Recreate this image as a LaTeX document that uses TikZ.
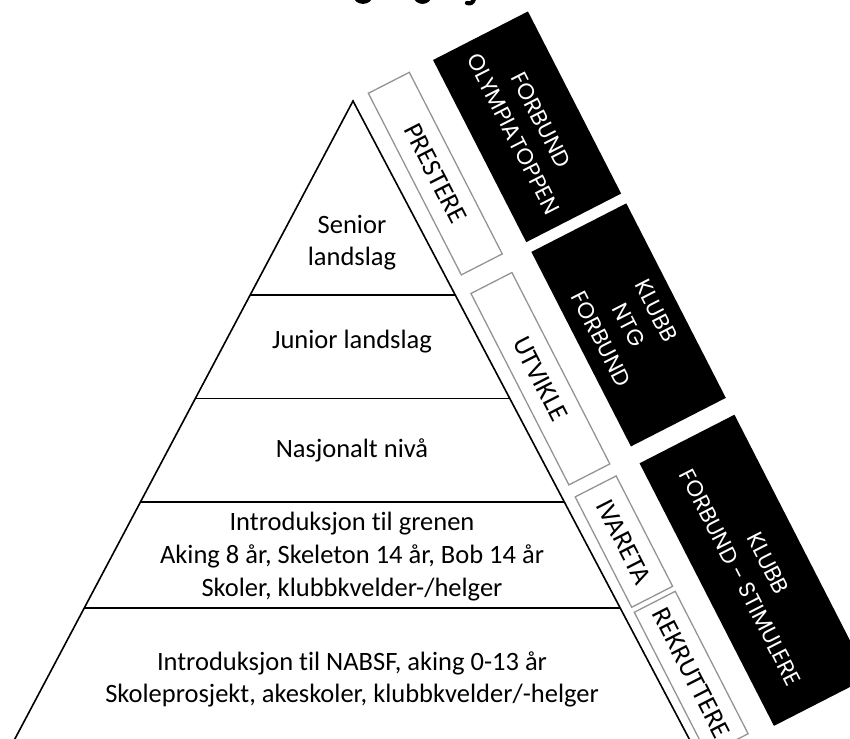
\documentclass[tikz,border=0pt]{standalone}
\usepackage{fontspec}
\setmainfont{Carlito}[Ligatures=CommonOff]
\newfontfamily\boxfont{Poppins}
\begin{document}
\begin{tikzpicture}[x=1pt,y=-1pt,
  lvl/.style={align=center,font=\fontsize{26.5}{32}\selectfont,inner sep=0pt},
  phase/.style={draw=black!42,line width=1.3pt,fill=white,rotate=-62.9,inner sep=0pt,
    minimum height=46pt,font=\fontsize{27}{32}\selectfont},
  actor/.style={fill=black,text=white,rotate=-62.9,inner sep=0pt,align=center,
    minimum height=106.6pt,font=\boxfont\fontsize{22.5}{31}\selectfont},
  edge/.style={line width=1.6pt,black},
  frag/.style={line width=4.2pt,black,line cap=round}]
\useasboundingbox (0,0) rectangle (850,738);
\clip (0,0) rectangle (850,738);

% fragments of the cut-off title
\draw[frag] (355,-5) .. controls (356,4) and (370,4) .. (371,-5);
\draw[frag] (415,-5) .. controls (416,4) and (429,4) .. (430,-5);
\draw[frag] (475,-6) -- (474,-1) .. controls (473,3) and (470,4) .. (467,3);

% pyramid
\coordinate (apex) at (353,101);
\coordinate (bl) at (3.7,760);
\coordinate (br) at (700.3,760);
\draw[edge] (bl) -- (apex) -- (br);
\coordinate (l1) at (250.2,295);   \coordinate (r1) at (455.2,295);
\coordinate (l2) at (195.3,398.5); \coordinate (r2) at (509.8,398.5);
\coordinate (l3) at (140.5,502);   \coordinate (r3) at (564.3,502);
\coordinate (l4) at (84.3,608);    \coordinate (r4) at (620.2,608);
\draw[edge] (l1) -- (r1);
\draw[edge] (l2) -- (r2);
\draw[edge] (l3) -- (r3);
\draw[edge] (l4) -- (r4);

% level texts
\node[lvl] (senior) at (352,243) {Senior\\landslag};
\node[lvl] (junior) at (352,342) {Junior landslag};
\node[lvl] (nasjonalt) at (352,450) {Nasjonalt nivå};
\node[lvl,font=\fontsize{26.5}{33}\selectfont] (intro) at (352,557) {Introduksjon til grenen\\Aking 8 år, Skeleton 14 år, Bob 14 år\\Skoler, klubbkvelder-/helger};
\node[lvl] (nabsf) at (352,679) {Introduksjon til NABSF, aking 0-13 år\\Skoleprosjekt, akeskoler, klubbkvelder/-helger};

% phase boxes
\node[phase,minimum width=204pt] (prestere) at (435.3,173.6) {PRESTERE};
\node[phase,minimum width=215pt] (utvikle) at (540.4,378.7) {UTVIKLE};
\node[phase,minimum width=124pt] (ivareta) at (623.9,541.6) {IVARETA};
\node[phase,minimum width=160pt] (rekruttere) at (691.2,673) {REKRUTTERE};

% actor boxes
\node[actor,minimum width=204.6pt] (olympia) at (527.1,126.8) {FORBUND\\OLYMPIATOPPEN};
\node[actor,minimum width=218.5pt] (ntg) at (628.6,324.9) {KLUBB\\NTG\\FORBUND};
\node[actor,minimum width=295pt] (stimulere) at (754.2,570.3) {KLUBB\\FORBUND - STIMULERE};
\end{tikzpicture}
\end{document}
